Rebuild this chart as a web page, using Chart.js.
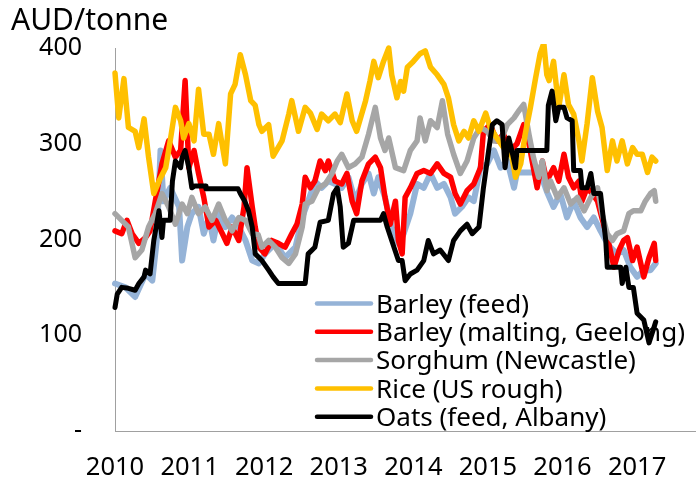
<!DOCTYPE html>
<html>
<head>
<meta charset="utf-8">
<script src="https://cdn.jsdelivr.net/npm/chart.js@4.4.1/dist/chart.umd.min.js"></script>
<style>
html,body{margin:0;padding:0;background:#fff;}
#wrap{position:relative;width:696px;height:480px;}
</style>
</head>
<body>
<div id="wrap"><canvas id="c" width="696" height="480"></canvas></div>
<script>
const unitLabel = 'AUD/tonne';
const yearTicks = [2010, 2011, 2012, 2013, 2014, 2015, 2016, 2017];
const valueTicks = [0, 100, 200, 300, 400];
const seriesNames = ['Barley (feed)', 'Barley (malting, Geelong)', 'Sorghum (Newcastle)', 'Rice (US rough)', 'Oats (feed, Albany)'];

const barleyFeed = [[2010.00,154],[2010.14,150],[2010.27,140],[2010.41,164],[2010.50,157],[2010.56,199],[2010.61,293],[2010.65,240],[2010.74,254],[2010.86,234],[2010.90,178],[2010.97,213],[2011.03,227],[2011.12,234],[2011.19,206],[2011.26,223],[2011.32,199],[2011.39,227],[2011.48,213],[2011.57,223],[2011.66,213],[2011.75,199],[2011.84,178],[2011.93,175],[2012.01,185],[2012.15,196],[2012.28,181],[2012.42,192],[2012.51,223],[2012.59,240],[2012.68,261],[2012.77,254],[2012.86,261],[2012.95,258],[2013.04,254],[2013.13,265],[2013.22,240],[2013.31,258],[2013.40,269],[2013.47,248],[2013.53,265],[2013.62,244],[2013.71,213],[2013.80,196],[2013.87,206],[2013.96,227],[2014.05,258],[2014.14,254],[2014.23,269],[2014.32,254],[2014.41,258],[2014.50,244],[2014.56,227],[2014.65,234],[2014.74,244],[2014.81,240],[2014.90,275],[2014.99,279],[2015.08,293],[2015.17,275],[2015.26,282],[2015.35,254],[2015.39,270],[2015.70,270],[2015.79,250],[2015.88,234],[2015.97,248],[2016.06,223],[2016.15,240],[2016.24,223],[2016.33,213],[2016.42,223],[2016.51,209],[2016.58,199],[2016.64,192],[2016.73,185],[2016.82,189],[2016.91,171],[2017.00,161],[2017.09,168],[2017.18,168],[2017.25,175]];

const barleyMalting = [[2010.00,209],[2010.09,206],[2010.16,220],[2010.23,206],[2010.32,196],[2010.41,202],[2010.47,209],[2010.54,240],[2010.63,279],[2010.72,303],[2010.81,286],[2010.88,293],[2010.94,366],[2010.99,275],[2011.06,293],[2011.12,269],[2011.19,244],[2011.26,213],[2011.35,220],[2011.44,206],[2011.50,196],[2011.57,213],[2011.66,199],[2011.73,234],[2011.77,275],[2011.84,234],[2011.88,213],[2011.93,192],[2012.01,185],[2012.10,199],[2012.19,196],[2012.28,192],[2012.37,206],[2012.44,216],[2012.51,237],[2012.55,265],[2012.62,254],[2012.68,261],[2012.75,282],[2012.82,272],[2012.86,282],[2012.95,261],[2013.04,258],[2013.11,269],[2013.18,240],[2013.24,227],[2013.31,261],[2013.40,279],[2013.49,286],[2013.56,275],[2013.62,244],[2013.69,216],[2013.76,240],[2013.80,199],[2013.85,185],[2013.89,244],[2013.96,254],[2014.05,269],[2014.14,272],[2014.23,269],[2014.32,279],[2014.41,269],[2014.50,265],[2014.56,248],[2014.63,237],[2014.72,251],[2014.81,258],[2014.90,275],[2014.94,313],[2015.03,320],[2015.12,303],[2015.21,310],[2015.30,293],[2015.39,300],[2015.48,320],[2015.55,300],[2015.61,275],[2015.66,254],[2015.73,282],[2015.79,261],[2015.88,275],[2015.95,261],[2016.02,289],[2016.08,265],[2016.15,254],[2016.22,261],[2016.26,240],[2016.33,254],[2016.40,248],[2016.47,240],[2016.55,216],[2016.62,196],[2016.69,171],[2016.76,189],[2016.82,199],[2016.87,202],[2016.94,178],[2017.00,192],[2017.09,161],[2017.16,181],[2017.23,196],[2017.25,178]];

const sorghum = [[2010.00,227],[2010.09,220],[2010.18,213],[2010.27,181],[2010.36,189],[2010.45,213],[2010.54,227],[2010.63,248],[2010.72,234],[2010.81,216],[2010.90,237],[2010.97,227],[2011.03,244],[2011.12,227],[2011.21,234],[2011.30,220],[2011.39,237],[2011.48,220],[2011.57,209],[2011.66,223],[2011.75,220],[2011.84,206],[2011.92,205],[2011.97,192],[2012.06,199],[2012.15,192],[2012.24,181],[2012.33,175],[2012.42,185],[2012.51,213],[2012.55,237],[2012.64,240],[2012.73,254],[2012.82,258],[2012.91,269],[2012.98,282],[2013.04,289],[2013.13,275],[2013.22,279],[2013.31,286],[2013.40,310],[2013.49,338],[2013.56,306],[2013.62,293],[2013.67,306],[2013.76,275],[2013.87,272],[2013.96,293],[2014.05,303],[2014.09,327],[2014.16,303],[2014.23,324],[2014.32,317],[2014.39,345],[2014.46,310],[2014.54,289],[2014.63,269],[2014.72,282],[2014.81,306],[2014.90,317],[2014.99,313],[2015.08,303],[2015.17,303],[2015.26,320],[2015.35,327],[2015.41,334],[2015.48,341],[2015.55,310],[2015.61,286],[2015.68,265],[2015.73,282],[2015.79,251],[2015.84,261],[2015.93,244],[2016.02,254],[2016.11,237],[2016.20,244],[2016.29,230],[2016.38,244],[2016.47,254],[2016.53,227],[2016.60,206],[2016.67,199],[2016.73,206],[2016.82,209],[2016.89,227],[2016.95,230],[2017.05,230],[2017.11,240],[2017.18,248],[2017.23,251],[2017.25,240]];

const rice = [[2010.00,374],[2010.05,327],[2010.12,368],[2010.18,317],[2010.27,313],[2010.32,296],[2010.39,326],[2010.45,286],[2010.52,248],[2010.59,261],[2010.68,275],[2010.74,303],[2010.81,338],[2010.88,324],[2010.92,306],[2010.99,321],[2011.06,303],[2011.12,357],[2011.19,310],[2011.26,310],[2011.32,289],[2011.39,321],[2011.48,279],[2011.55,352],[2011.61,362],[2011.68,393],[2011.75,372],[2011.82,345],[2011.88,340],[2011.93,320],[2011.97,313],[2012.06,320],[2012.12,287],[2012.24,303],[2012.33,331],[2012.37,345],[2012.46,313],[2012.55,338],[2012.62,332],[2012.71,315],[2012.77,331],[2012.86,324],[2012.95,331],[2013.02,322],[2013.11,352],[2013.18,324],[2013.24,313],[2013.36,345],[2013.42,366],[2013.47,386],[2013.53,369],[2013.60,386],[2013.67,400],[2013.71,372],[2013.78,348],[2013.83,365],[2013.87,355],[2013.92,380],[2014.00,386],[2014.09,394],[2014.16,397],[2014.23,380],[2014.32,372],[2014.41,362],[2014.47,348],[2014.54,320],[2014.61,303],[2014.68,313],[2014.74,306],[2014.81,324],[2014.88,313],[2014.97,332],[2015.03,317],[2015.12,306],[2015.21,296],[2015.30,296],[2015.37,265],[2015.44,279],[2015.50,310],[2015.57,338],[2015.64,369],[2015.70,394],[2015.75,405],[2015.79,372],[2015.82,366],[2015.88,386],[2015.95,338],[2016.02,372],[2016.08,341],[2016.15,331],[2016.22,303],[2016.26,282],[2016.33,321],[2016.40,369],[2016.47,334],[2016.53,317],[2016.60,272],[2016.67,303],[2016.73,282],[2016.80,303],[2016.87,279],[2016.94,296],[2017.00,289],[2017.07,289],[2017.14,270],[2017.20,286],[2017.25,282]];

const oats = [[2010.00,129],[2010.03,143],[2010.09,150],[2010.18,149],[2010.27,147],[2010.32,154],[2010.39,161],[2010.41,168],[2010.47,164],[2010.52,199],[2010.59,230],[2010.63,202],[2010.65,220],[2010.74,220],[2010.77,261],[2010.81,282],[2010.88,275],[2010.90,286],[2010.94,293],[2010.99,275],[2011.03,254],[2011.07,256],[2011.21,256],[2011.22,253],[2011.65,253],[2011.68,248],[2011.74,240],[2011.79,230],[2011.84,213],[2011.88,185],[2011.97,178],[2012.06,168],[2012.12,161],[2012.19,154],[2012.55,154],[2012.59,185],[2012.68,192],[2012.75,218],[2012.86,220],[2012.93,248],[2012.98,254],[2013.02,234],[2013.06,192],[2013.13,196],[2013.20,220],[2013.56,220],[2013.60,227],[2013.65,213],[2013.71,199],[2013.80,178],[2013.85,178],[2013.89,157],[2013.96,164],[2014.05,168],[2014.14,178],[2014.20,199],[2014.27,185],[2014.36,189],[2014.47,178],[2014.54,199],[2014.63,209],[2014.72,216],[2014.79,206],[2014.88,213],[2014.94,254],[2015.01,293],[2015.06,320],[2015.12,324],[2015.19,320],[2015.23,275],[2015.28,306],[2015.32,293],[2015.37,275],[2015.39,293],[2015.79,293],[2015.81,340],[2015.86,355],[2015.91,324],[2015.95,338],[2016.02,338],[2016.06,327],[2016.13,324],[2016.15,272],[2016.24,272],[2016.26,254],[2016.33,254],[2016.38,269],[2016.42,248],[2016.51,248],[2016.58,199],[2016.60,171],[2016.78,171],[2016.80,154],[2016.85,171],[2016.89,150],[2016.95,150],[2017.00,123],[2017.09,116],[2017.16,92],[2017.23,109],[2017.25,114]];

const seriesData = [barleyFeed, barleyMalting, sorghum, rice, oats];
const seriesColors = ['#95B3D7', '#FF0000', '#A6A6A6', '#FFC000', '#000000'];
const seriesWidths = [6, 5.5, 5.5, 5.5, 5];

const FONT = '"Noto Sans", "Open Sans", sans-serif';

const overlayPlugin = {
  id: 'overlay',
  beforeDatasetsDraw(chart) {
    const ctx = chart.ctx;
    ctx.save();
    // legend (drawn beneath the lines, as in the reference)
    const x0 = 317, x1 = 371, tx = 376, lineY0 = 303.5, step = 28.3;
    ctx.font = '26px ' + FONT;
    ctx.textBaseline = 'alphabetic';
    ctx.textAlign = 'left';
    chart.data.datasets.forEach((ds, i) => {
      const y = lineY0 + i * step;
      ctx.strokeStyle = ds.borderColor;
      ctx.lineWidth = 4.5;
      ctx.lineCap = 'round';
      ctx.beginPath();
      ctx.moveTo(x0, y);
      ctx.lineTo(x1, y);
      ctx.stroke();
      ctx.fillStyle = '#000';
      ctx.fillText(ds.label, tx, y + 9.3);
    });
    ctx.restore();
  },
  afterDraw(chart) {
    const ctx = chart.ctx;
    ctx.save();
    ctx.font = '30px ' + FONT;
    ctx.fillStyle = '#000';
    ctx.textAlign = 'left';
    ctx.textBaseline = 'alphabetic';
    ctx.fillText(unitLabel, 11, 29.5);
    ctx.restore();
  }
};

new Chart(document.getElementById('c'), {
  type: 'line',
  data: {
    datasets: seriesData.map((pts, i) => ({
      label: seriesNames[i],
      data: pts.map(p => ({ x: p[0], y: p[1] })),
      borderColor: seriesColors[i],
      backgroundColor: seriesColors[i],
      borderWidth: seriesWidths[i],
      pointRadius: 0,
      tension: 0,
      fill: false,
      borderJoinStyle: 'round',
      borderCapStyle: 'round',
      order: seriesData.length - i
    }))
  },
  plugins: [overlayPlugin],
  options: {
    responsive: false,
    animation: false,
    devicePixelRatio: 1,
    clip: 4,
    layout: { padding: { top: 47, right: 0, bottom: 0, left: 0 } },
    plugins: { legend: { display: false }, tooltip: { enabled: false }, title: { display: false } },
    scales: {
      x: {
        type: 'linear',
        min: 2010,
        max: 2017.79,
        afterBuildTicks: s => { s.ticks = yearTicks.map(v => ({ value: v })); },
        afterFit: s => { s.height = 49; },
        grid: { display: false, drawTicks: false },
        border: { display: true, color: '#A0A0A0', width: 1 },
        ticks: {
          padding: 21,
          maxRotation: 0,
          autoSkip: false,
          color: '#000',
          font: { family: FONT, size: 25.5 },
          callback: v => String(v)
        }
      },
      y: {
        type: 'linear',
        min: 0,
        max: 400,
        afterBuildTicks: s => { s.ticks = valueTicks.map(v => ({ value: v })); },
        afterFit: s => { s.width = 115; },
        grid: { display: false, drawTicks: false },
        border: { display: true, color: '#A0A0A0', width: 1 },
        ticks: {
          padding: 33,
          color: '#000',
          font: { family: FONT, size: 25 },
          callback: v => v === 0 ? '-' : String(v)
        }
      }
    }
  }
});
</script>
</body>
</html>
